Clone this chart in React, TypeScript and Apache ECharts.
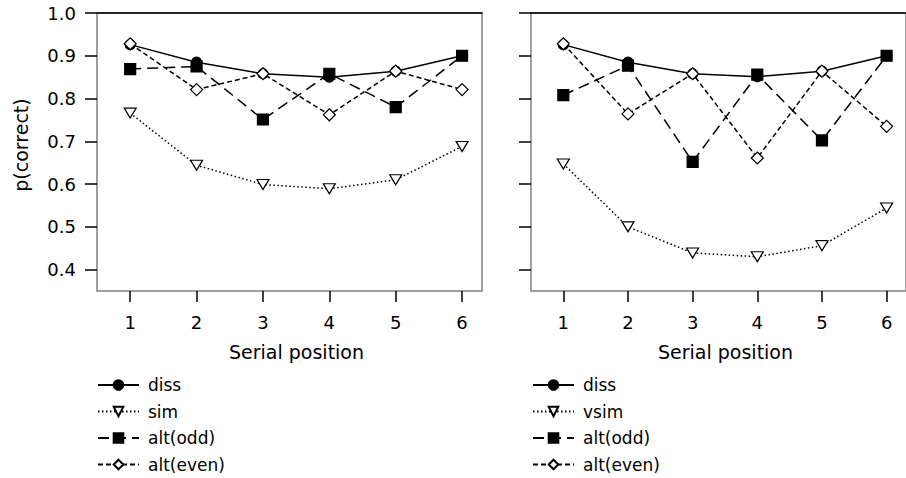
import React, { useEffect, useRef } from "react";
import * as echarts from "echarts";

const positions = [1, 2, 3, 4, 5, 6];
const yTicks = [0.4, 0.5, 0.6, 0.7, 0.8, 0.9, 1.0];

const leftDiss = [0.926, 0.885, 0.858, 0.85, 0.864, 0.9];
const leftSim = [0.766, 0.644, 0.599, 0.589, 0.61, 0.688];
const leftAltOdd = [0.869, 0.875, 0.751, 0.858, 0.78, 0.9];
const leftAltEven = [0.928, 0.821, 0.858, 0.762, 0.864, 0.821];

const rightDiss = [0.926, 0.885, 0.858, 0.851, 0.864, 0.9];
const rightVsim = [0.647, 0.5, 0.439, 0.43, 0.456, 0.544];
const rightAltOdd = [0.808, 0.877, 0.652, 0.856, 0.702, 0.9];
const rightAltEven = [0.928, 0.764, 0.858, 0.661, 0.864, 0.735];

const leftNames = ["diss", "sim", "alt(odd)", "alt(even)"];
const rightNames = ["diss", "vsim", "alt(odd)", "alt(even)"];

const FONT = "'DejaVu Sans', sans-serif";
const TRI = "path://M0,0L12,0L6,10Z";

const styles = [
  { symbol: "circle", size: 10, fill: "#000", dash: "solid" as any, lw: 1.5 },
  { symbol: TRI, size: [12, 10], fill: "#fff", dash: [1.5, 2.5], lw: 1.5 },
  { symbol: "rect", size: 11, fill: "#000", dash: [11, 6], lw: 1.5 },
  { symbol: "diamond", size: 12, fill: "#fff", dash: [5, 3], lw: 1.5 },
];

function mkSeries(names: string[], vals: number[][], axisIdx: number) {
  return vals.map((v, i) => ({
    type: "line",
    name: names[i],
    xAxisIndex: axisIdx * 2,
    yAxisIndex: axisIdx,
    data: positions.map((p, j) => [p, v[j]]),
    symbol: styles[i].symbol,
    symbolSize: styles[i].size,
    showSymbol: true,
    lineStyle: { color: "#000", width: styles[i].lw, type: styles[i].dash },
    itemStyle: { color: styles[i].fill, borderColor: "#000", borderWidth: 1.2 },
    z: 2 + i,
  }));
}

export default function App() {
  const ref = useRef<HTMLDivElement>(null);
  useEffect(() => {
    if (!ref.current) return;
    const chart = echarts.init(ref.current, null, { renderer: "svg" });
    const grids = [
      { left: 97, top: 13, width: 385, height: 278 },
      { left: 531, top: 13, width: 385, height: 278 },
    ];
    const xAxes: any[] = [];
    const yAxes: any[] = [];
    grids.forEach((g, gi) => {
      xAxes.push({
        type: "value",
        gridIndex: gi,
        min: 0.5,
        max: 6.3,
        position: "bottom",
        name: "Serial position",
        nameLocation: "middle",
        nameGap: 51,
        nameTextStyle: { fontFamily: FONT, fontSize: 19, color: "#000", padding: [0, 0, 0, 14] },
        axisLine: { show: false },
        axisTick: { show: true, customValues: positions, length: 11, lineStyle: { color: "#000", width: 1.5 } },
        axisLabel: { show: true, customValues: positions, margin: 22, fontFamily: FONT, fontSize: 18, color: "#000" },
        splitLine: { show: false },
      });
      xAxes.push({
        type: "value",
        gridIndex: gi,
        min: 0.5,
        max: 6.3,
        position: "top",
        axisLine: { show: true, lineStyle: { color: "#000", width: 1.5 } },
        axisTick: { show: false },
        axisLabel: { show: false },
        splitLine: { show: false },
      });
      yAxes.push({
        type: "value",
        gridIndex: gi,
        min: 0.35,
        max: 1.0,
        name: gi === 0 ? "p(correct)" : "",
        nameLocation: "middle",
        nameGap: 67,
        nameTextStyle: { fontFamily: FONT, fontSize: 19, color: "#000", padding: [0, 0, 0, 14] },
        axisLine: { show: false },
        axisTick: { show: true, customValues: yTicks, length: 12, lineStyle: { color: "#000", width: 1.5 } },
        axisLabel: {
          show: gi === 0,
          customValues: yTicks,
          margin: 21,
          fontFamily: FONT,
          fontSize: 18,
          color: "#000",
          formatter: (v: number) => v.toFixed(1),
        },
        splitLine: { show: false },
      });
    });

    const legendCommon = {
      orient: "vertical",
      top: 375,
      height: 103,
      padding: 0,
      itemWidth: 41,
      itemHeight: 12,
      itemGap: 6.5,
      selectedMode: false,
      textStyle: { fontFamily: FONT, fontSize: 17, color: "#000", lineHeight: 20, padding: [0, 0, 0, 4] },
    };

    chart.setOption({
      animation: false,
      backgroundColor: "#fff",
      grid: grids.map((g) => ({ ...g, show: true, borderColor: "#808080", borderWidth: 1.5, backgroundColor: "transparent" })),
      xAxis: xAxes,
      yAxis: yAxes,
      legend: [
        { ...legendCommon, left: 97, data: leftNames },
        { ...legendCommon, left: 532, data: rightNames },
      ],
      series: [
        ...mkSeries(leftNames, [leftDiss, leftSim, leftAltOdd, leftAltEven], 0),
        ...mkSeries(rightNames, [rightDiss, rightVsim, rightAltOdd, rightAltEven], 1),
      ],
    });
    return () => chart.dispose();
  }, []);
  return <div ref={ref} style={{ width: 906, height: 478, position: "absolute", left: 0, top: 0 }} />;
}
